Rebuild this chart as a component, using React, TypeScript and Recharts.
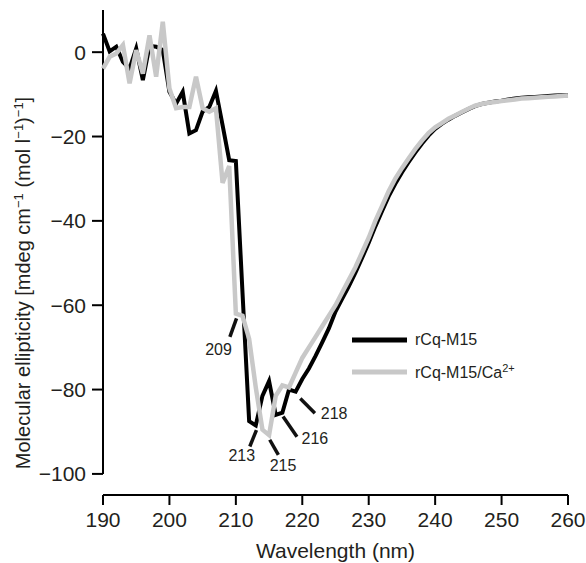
import {
  LineChart,
  Line,
  XAxis,
  YAxis,
  Legend,
  ReferenceLine,
  ReferenceDot,
} from "recharts";

const wavelengths = [
  190, 191, 192, 193, 194, 195, 196, 197, 198, 199, 200, 201, 202, 203, 204, 205, 206, 207, 208, 209,
  210, 211, 212, 213, 214, 215, 216, 217, 218, 219, 220, 221, 222, 223, 224, 225, 226, 227, 228, 229,
  230, 231, 232, 233, 234, 235, 236, 237, 238, 239, 240, 241, 242, 243, 244, 245, 246, 247, 248, 249,
  250, 251, 252, 253, 254, 255, 256, 257, 258, 259, 260,
];

// rCq-M15 (black)
const rcq = [
  4.4, 0.2, 1.3, -2.3, -3.9, 0.9, -6.6, 1.5, 1.3, 0.5, -9.4, -12.2, -9.4, -19.3, -18.5, -14.1, -13, -9.2, -17.3, -25.6,
  -25.8, -57, -87.5, -88.5, -81.5, -78, -86, -85.5, -80, -80.5, -77.5, -75, -72, -68.8, -65.5, -61.5, -58.5, -55.5, -52.3, -48.8,
  -45.2, -41.3, -37.7, -34.2, -31.2, -28.5, -26.1, -23.8, -21.7, -19.8, -18.2, -17, -16, -15.1, -14.3, -13.5, -12.8, -12.3, -12, -11.7,
  -11.5, -11.2, -11, -10.8, -10.7, -10.6, -10.5, -10.4, -10.3, -10.2, -10.2,
];

// rCq-M15/Ca2+ (grey)
const rcqCa = [
  -3.9, -1.1, -0.3, 1.7, -7.4, 0.5, -5.1, 4, -5.8, 7.2, -8.6, -13.3, -13, -13, -5.8, -13.3, -14.1, -13.3, -31, -27,
  -62, -62.5, -68, -79.5, -89.5, -90.8, -81.5, -79, -79.5, -76, -72.5, -70, -67.5, -65, -62.5, -60, -57, -54, -51, -47.5,
  -44, -40, -36.5, -33, -30, -27.5, -25.2, -23, -21, -19.2, -17.8, -16.8, -15.8, -15, -14.2, -13.4, -12.7, -12.3, -12, -11.8,
  -11.6, -11.4, -11.2, -11, -10.9, -10.8, -10.7, -10.6, -10.5, -10.4, -10.3,
];

const xTicks = [190, 200, 210, 220, 230, 240, 250, 260];
const yTicks = [-100, -80, -60, -40, -20, 0];

// peak annotations: leader line (data coords) and label position
const peakLabels = ["209", "213", "215", "216", "218"];
const leaderFrom = [
  { x: 210.1, y: -63.1 },
  { x: 213.1, y: -89.6 },
  { x: 215.1, y: -91.9 },
  { x: 217.1, y: -86.4 },
  { x: 219.7, y: -82.1 },
];
const leaderTo = [
  { x: 209.1, y: -67.5 },
  { x: 212.1, y: -93.5 },
  { x: 216.4, y: -95.5 },
  { x: 219.2, y: -91.2 },
  { x: 221.9, y: -85.6 },
];
const labelAt = [
  { x: 207.4, y: -70.5 },
  { x: 210.9, y: -95.5 },
  { x: 217.1, y: -97.9 },
  { x: 221.9, y: -91.5 },
  { x: 224.8, y: -85.6 },
];

const data = wavelengths.map((nm, i) => ({ nm, rcq: rcq[i], rcqCa: rcqCa[i] }));

const FONT = '"Liberation Sans", Arial, sans-serif';
const TEXT = "#231f20";
const BLACK = "#000000";
const GREY = "#c8c8c8";

const minus = (v: number) => (v < 0 ? `\u2212${-v}` : `${v}`);

const YTitle = () => (
  <text
    transform="translate(30, 283) rotate(-90)"
    textAnchor="middle"
    fontSize={20}
    fill={TEXT}
    fontFamily={FONT}
  >
    Molecular ellipticity [mdeg cm
    <tspan dy={-7} fontSize={13}>{"\u22121"}</tspan>
    <tspan dy={7}> (mol l</tspan>
    <tspan dy={-7} fontSize={13}>{"\u22121"}</tspan>
    <tspan dy={7}>)</tspan>
    <tspan dy={-7} fontSize={13}>{"\u22121"}</tspan>
    <tspan dy={7}>]</tspan>
  </text>
);

const LegendBox = () => (
  <div style={{ fontFamily: FONT, fontSize: 16, color: TEXT }}>
    {[
      { color: BLACK, label: <>rCq-M15</> },
      { color: GREY, label: <>rCq-M15/Ca<sup style={{ fontSize: 11 }}>2+</sup></> },
    ].map((item, i) => (
      <div key={i} style={{ display: "flex", alignItems: "center", height: 32 }}>
        <svg width={55} height={6} style={{ marginRight: 8 }}>
          <line x1={0} y1={3} x2={55} y2={3} stroke={item.color} strokeWidth={5} />
        </svg>
        <span>{item.label}</span>
      </div>
    ))}
  </div>
);

export default function App() {
  return (
    <div style={{ position: "absolute", left: 0, top: 0, width: 586, height: 563, background: "#fff" }}>
      <LineChart width={586} height={563} data={data} margin={{ top: 10, right: 18, left: 0, bottom: 0 }}>
        <XAxis
          dataKey="nm"
          type="number"
          domain={[190, 260]}
          ticks={xTicks}
          height={68}
          axisLine={{ stroke: BLACK, strokeWidth: 2 }}
          tickLine={{ stroke: BLACK, strokeWidth: 2 }}
          tickSize={10}
          tickMargin={7}
          tick={{ fontSize: 21, fill: TEXT, fontFamily: FONT }}
          label={{ value: "Wavelength (nm)", position: "insideBottom", offset: 5, fontSize: 21, fill: TEXT, fontFamily: FONT }}
        />
        <YAxis
          type="number"
          domain={[-105, 10]}
          ticks={yTicks}
          width={103}
          axisLine={false}
          tickLine={{ stroke: BLACK, strokeWidth: 2 }}
          tickSize={11}
          tickMargin={6}
          tickFormatter={minus}
          tick={{ fontSize: 21, fill: TEXT, fontFamily: FONT }}
          label={{ content: () => <YTitle /> }}
        />
        <ReferenceLine
          segment={[{ x: 190, y: -100 }, { x: 190, y: 10 }]}
          stroke={BLACK}
          strokeWidth={2}
          ifOverflow="visible"
        />
        <Line type="linear" dataKey="rcq" stroke={BLACK} strokeWidth={4} dot={false} isAnimationActive={false} />
        <Line type="linear" dataKey="rcqCa" stroke={GREY} strokeWidth={4.5} dot={false} isAnimationActive={false} />
        {peakLabels.map((p, i) => (
          <ReferenceLine
            key={`l${p}`}
            segment={[leaderFrom[i], leaderTo[i]]}
            stroke="#111"
            strokeWidth={3.5}
            ifOverflow="visible"
          />
        ))}
        {peakLabels.map((p, i) => (
          <ReferenceDot
            key={`d${p}`}
            x={labelAt[i].x}
            y={labelAt[i].y}
            r={0}
            stroke="none"
            fill="none"
            ifOverflow="visible"
            label={{ value: p, position: "center", fontSize: 16, fill: TEXT, fontFamily: FONT }}
          />
        ))}
        <Legend
          layout="vertical"
          align="center"
          verticalAlign="middle"
          content={() => <LegendBox />}
          wrapperStyle={{ left: 352, top: 324, width: 220, height: 64 }}
        />
      </LineChart>
    </div>
  );
}
